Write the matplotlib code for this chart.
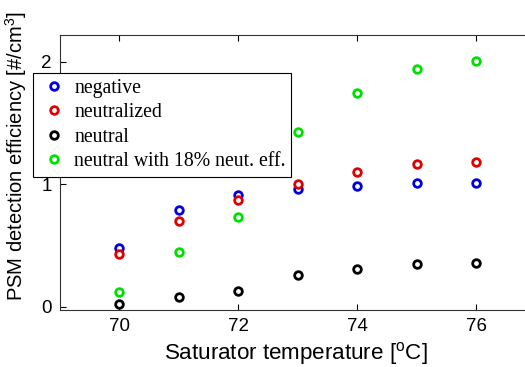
import numpy as np
import matplotlib
matplotlib.use("Agg")
import matplotlib.pyplot as plt

plt.rcParams['font.family'] = ['Liberation Sans', 'DejaVu Sans']
plt.rcParams['mathtext.fontset'] = 'custom'
plt.rcParams['mathtext.rm'] = 'Liberation Sans'
plt.rcParams['mathtext.it'] = 'Liberation Sans'

temps = [70, 71, 72, 73, 74, 75, 76]
negative = [0.477, 0.79, 0.91, 0.965, 0.99, 1.01, 1.01]
neutralized = [0.43, 0.70, 0.87, 1.005, 1.10, 1.166, 1.185]
neutral = [0.022, 0.08, 0.128, 0.256, 0.31, 0.35, 0.36]
neutral_18 = [0.12, 0.45, 0.73, 1.427, 1.746, 1.944, 2.007]

series = [
    ("negative", negative, "#0000e0"),
    ("neutralized", neutralized, "#e00000"),
    ("neutral", neutral, "#000000"),
    ("neutral with 18% neut. eff.", neutral_18, "#00e000"),
]


def main():
    fig = plt.figure(figsize=(5.25, 3.67), dpi=100)
    ax = fig.add_axes([0.114, 0.155, 1.02, 0.749])

    for label, vals, col in series:
        ax.plot(temps, vals, linestyle='none', marker='o', markersize=5.5,
                markerfacecolor='white', markeredgecolor=col,
                markeredgewidth=2, label=label)

    ax.set_xlim(69, 78)
    ax.set_ylim(-0.027, 2.217)
    ax.set_xticks([70, 72, 74, 76])
    ax.set_yticks([0, 1, 2])
    ax.tick_params(direction='in', top=True, right=False, labelsize=13.5,
                   length=4, width=0.8, pad=6)
    ax.spines['right'].set_visible(False)
    for sp in ax.spines.values():
        sp.set_linewidth(0.8)
        sp.set_color('#333333')

    xl = ax.set_xlabel(r"Saturator temperature [$^{\rm o}$C]", fontsize=16.1)
    xl.set_verticalalignment('baseline')
    ax.xaxis.set_label_coords(0.44, -0.178)
    ax.set_ylabel(r"PSM detection efficiency [#/cm$^3$]", fontsize=14.5)
    ax.yaxis.set_label_coords(-0.058, 0.56)

    leg = fig.legend(loc='upper left', bbox_to_anchor=(0.063, 0.801),
                     borderaxespad=0, fancybox=False, framealpha=1,
                     edgecolor='black', handlelength=1.6, handletextpad=0.2,
                     labelspacing=0.28, borderpad=0.28,
                     prop={'family': 'Liberation Serif', 'size': 14.2})
    leg.get_frame().set_linewidth(0.8)

    fig.savefig("out.png", dpi=100)


if __name__ == "__main__": main()
